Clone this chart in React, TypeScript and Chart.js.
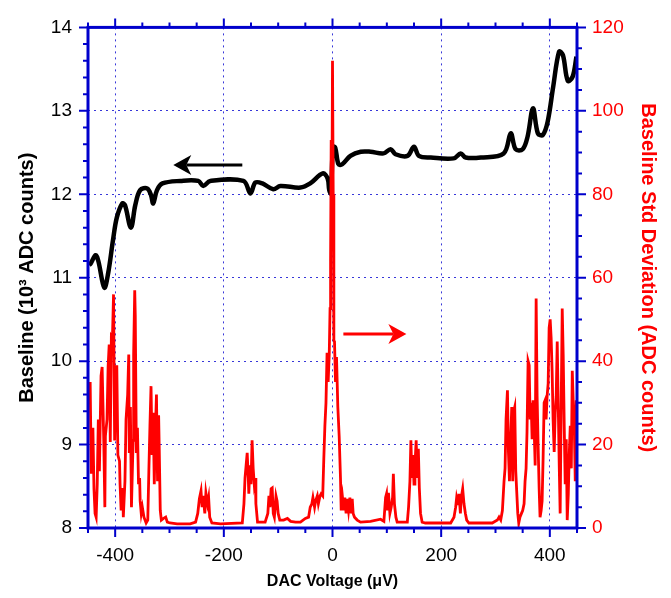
import React, { useEffect, useRef } from 'react';
import { Chart, registerables } from 'chart.js';

Chart.register(...registerables);

const FONT = "'Liberation Sans', Arial, sans-serif";
const BLUE = '#0000cc';
const RED = '#ff0000';

const xTickValues = [-400, -200, 0, 200, 400];
const xTitle = 'DAC Voltage (\u03bcV)';
const yTitle = 'Baseline (10\u00b3 ADC counts)';
const y2Title = 'Baseline Std Deviation (ADC counts)';

// Baseline (10^3 ADC counts), left axis
const baseVoltage = [-448, -445, -436, -431, -420, -413, -404, -397, -387, -382, -371, -363, -354, -341, -334, -330, -323, -313, -280, -247, -238, -225, -164, -151, -142, -129, -109, -96, -59, -41, -18, -9, -6, -3, 1, 5, 11, 18, 33, 52, 70, 94, 107, 116, 138, 150, 159, 181, 223, 236, 245, 273, 315, 328, 337, 350, 359, 369, 378, 387, 396, 406, 417, 424, 433, 442, 449];
const baseValue = [11.15, 11.17, 11.27, 11.2, 10.88, 11.05, 11.45, 11.72, 11.89, 11.87, 11.6, 11.87, 12.05, 12.07, 11.99, 11.89, 12.05, 12.13, 12.16, 12.16, 12.1, 12.16, 12.16, 12.01, 12.14, 12.13, 12.06, 12.1, 12.08, 12.13, 12.25, 12.19, 12.05, 12.01, 12.57, 12.56, 12.36, 12.36, 12.46, 12.51, 12.51, 12.49, 12.54, 12.48, 12.46, 12.57, 12.46, 12.44, 12.43, 12.49, 12.44, 12.44, 12.49, 12.73, 12.54, 12.54, 12.69, 13.03, 12.73, 12.71, 12.87, 13.28, 13.71, 13.67, 13.36, 13.41, 13.65];

// Baseline std deviation (ADC counts), right axis
const stdVoltage = [-446, -444, -441, -439, -437, -435, -433, -431, -429, -426, -424, -421, -419, -418, -415, -413, -411, -409, -407, -405, -403, -401, -399, -397, -395, -392, -391, -389, -386, -385, -382, -380, -377, -375, -374, -372, -370, -367, -366, -364, -363, -361, -359, -357, -355, -354, -352, -350, -347, -343, -340, -338, -336, -334, -332, -330, -328, -326, -324, -322, -320, -319, -317, -315, -311, -307, -304, -299, -286, -262, -252, -248, -245, -242, -240, -238, -235, -233, -230, -228, -226, -222, -206, -166, -163, -161, -159, -157, -155, -154, -152, -150, -148, -146, -144, -142, -141, -138, -130, -124, -119, -117, -115, -113, -111, -109, -107, -104, -102, -100, -97, -90, -83, -77, -68, -59, -50, -44, -41, -38, -36, -33, -31, -28, -26, -23, -21, -18, -16, -14, -12, -10, -8, -6, -4.5, -3.5, -2.4, -1.3, 0, 1.3, 2.5, 3.7, 5.5, 7.4, 9.8, 12.3, 14.7, 16, 18.4, 20.8, 22.7, 25, 27, 29.5, 32, 34.4, 36.3, 38, 40.5, 45.5, 51.6, 70, 88.5, 94.6, 97.7, 99.5, 101, 103, 105.6, 108, 110.6, 112, 114, 116.7, 119, 128.4, 137.7, 140, 142.5, 144.3, 146, 148, 150, 151.7, 154, 156, 158, 159.8, 162, 165, 171, 205, 217.5, 223.6, 226.7, 228.5, 231, 232.8, 235.4, 237, 239.6, 242, 244.6, 247, 251, 279, 294, 303.5, 306.5, 309.6, 312.7, 315.7, 317.6, 319.4, 322, 323.8, 325.7, 328, 329.9, 331.7, 333.6, 335.4, 337.3, 339, 341, 342.8, 345, 347.8, 350, 352.6, 354.4, 356.3, 358, 360, 362, 363.7, 365.6, 367.4, 369.2, 371, 373, 374.8, 376.6, 378.4, 380.3, 382, 384, 385.8, 387.6, 389.5, 391.3, 393.2, 395, 396.9, 398.7, 400.6, 402.4, 404.2, 406, 408, 409.9, 411.7, 413.6, 415.4, 417.3, 419, 421, 422.8, 424.6, 426.5, 428.3, 430.2, 432, 434, 435.7, 437.6, 439.5, 441.3, 443, 445, 446.8, 448.7];
const stdValue = [35, 13, 24, 9.4, 3.5, 2.6, 10.5, 26, 13.6, 36.5, 38.6, 21, 5, 22, 26, 38.6, 44, 20.6, 46, 45.6, 56, 21, 35, 39, 17.5, 16, 10.5, 4.2, 9.6, 2.6, 11.2, 26, 32, 41.6, 18, 29, 5, 21, 41.6, 57, 51, 18, 24, 10.5, 12, 6.5, 3.5, 5, 2.6, 1.2, 1.9, 13.6, 24.5, 34, 17.5, 27.6, 10.5, 23, 32, 11.2, 27, 20, 4.2, 1.9, 2.3, 2.6, 1.4, 1.2, 1, 1, 1.4, 3.5, 7, 8.9, 5, 7.7, 3.5, 8.4, 5.8, 7.3, 2.6, 1.2, 1, 1.2, 5.8, 12, 15, 18, 12, 8.2, 15, 10.5, 21, 14.3, 10.5, 12, 5.8, 1.4, 1.4, 1.4, 3.5, 7.7, 5, 9.4, 9.6, 3.5, 2.6, 7.7, 6.5, 3.5, 1.9, 1.9, 2.3, 1.6, 1.4, 1.4, 2.3, 2.6, 5, 5.8, 7.3, 5, 6.5, 7.7, 5.8, 7.7, 8.2, 7.7, 16.6, 24.5, 30, 42, 35, 41.6, 52.6, 64, 93, 70, 112, 80, 45, 44.7, 35, 41, 29, 22, 12, 4.2, 7.3, 4.2, 7.3, 3.5, 7, 4.2, 7.3, 3.5, 7, 3.5, 2.6, 1.9, 1.4, 1.6, 2.1, 1.6, 7.3, 8.2, 4.2, 8.4, 3.5, 5, 7.3, 13, 5.8, 2.6, 1.4, 1.4, 1.4, 5, 11.2, 21, 12, 17.5, 10.5, 15, 21, 12, 19, 9.6, 3.5, 1.4, 1.2, 1.2, 1.2, 2.6, 5, 7.3, 5.8, 8.2, 3.5, 7.3, 9.4, 5.8, 3.5, 1.9, 1.2, 1.2, 1.2, 1.9, 2.6, 1.9, 4.2, 11.2, 14.3, 26, 33, 18.2, 11.2, 21.3, 29, 11.2, 28, 29, 13.6, 8.9, 3.5, 1.2, 2.6, 3.5, 4.2, 5.8, 11.2, 14.3, 23, 40, 39, 26, 30, 21.3, 30.6, 24.5, 15, 55, 31.6, 20, 9.6, 2.6, 4.2, 6.5, 16.6, 30, 30.6, 26, 31.6, 34.6, 48, 50, 45.6, 37.7, 26, 18.2, 27.6, 31.6, 44.7, 30, 15, 3.5, 30.6, 52.6, 41.6, 24.5, 10.5, 21.3, 1.9, 8.2, 17.5, 24.5, 14.3, 37.7, 30.6, 24.5, 11.2, 30.6];

// Annotation arrows (data units)
const leftArrow = { tail: -166, tip: -293, value: 12.35 };
const rightArrow = { tail: 20, tip: 136, value: 46.5 };

function drawArrow(ctx: CanvasRenderingContext2D, x1: number, y: number, x2: number, color: string) {
  const dir = x2 > x1 ? 1 : -1;
  const headLen = 18;
  const half = 10;
  const notch = 5;
  ctx.save();
  ctx.strokeStyle = color;
  ctx.fillStyle = color;
  ctx.lineWidth = 3;
  ctx.beginPath();
  ctx.moveTo(x1, y);
  ctx.lineTo(x2 - dir * (headLen - notch), y);
  ctx.stroke();
  ctx.beginPath();
  ctx.moveTo(x2, y);
  ctx.lineTo(x2 - dir * headLen, y - half);
  ctx.lineTo(x2 - dir * (headLen - notch), y);
  ctx.lineTo(x2 - dir * headLen, y + half);
  ctx.closePath();
  ctx.fill();
  ctx.restore();
}

const framePlugin = {
  id: 'framePlugin',
  afterDraw(chart: any) {
    const { ctx, chartArea, scales } = chart;
    const { left, right, top, bottom } = chartArea;
    const xs = scales.x;
    const ys = scales.y;
    const y2s = scales.y2;
    ctx.save();
    ctx.strokeStyle = BLUE;
    ctx.lineWidth = 2;
    ctx.beginPath();
    for (let v = -450; v <= 450; v += 50) {
      const px = xs.getPixelForValue(v);
      const len = v % 200 === 0 ? 9 : 5;
      ctx.moveTo(px, bottom);
      ctx.lineTo(px, bottom + len);
      ctx.moveTo(px, top);
      ctx.lineTo(px, top - len);
    }
    for (let i = 0; i <= 30; i++) {
      const v = 8 + i * 0.2;
      const py = ys.getPixelForValue(v);
      const len = i % 5 === 0 ? 9 : 5;
      ctx.moveTo(left, py);
      ctx.lineTo(left - len, py);
    }
    for (let v = 0; v <= 120; v += 5) {
      const py = y2s.getPixelForValue(v);
      const len = v % 20 === 0 ? 9 : 5;
      ctx.moveTo(right, py);
      ctx.lineTo(right + len, py);
    }
    ctx.stroke();
    ctx.lineWidth = 3;
    ctx.strokeRect(left, top, right - left, bottom - top);
    ctx.restore();

    drawArrow(ctx, xs.getPixelForValue(leftArrow.tail), ys.getPixelForValue(leftArrow.value), xs.getPixelForValue(leftArrow.tip), '#000000');
    drawArrow(ctx, xs.getPixelForValue(rightArrow.tail), y2s.getPixelForValue(rightArrow.value), xs.getPixelForValue(rightArrow.tip), RED);
  },
};

export default function App() {
  const canvasRef = useRef<HTMLCanvasElement | null>(null);

  useEffect(() => {
    if (!canvasRef.current) return;
    const gridCommon = {
      color: 'rgba(20,20,210,0.85)',
      lineWidth: 1,
      drawTicks: false,
    };
    const chart = new Chart(canvasRef.current, {
      type: 'line',
      data: {
        datasets: [
          {
            label: 'Std Deviation',
            data: stdVoltage.map((x, i) => ({ x, y: stdValue[i] })),
            yAxisID: 'y2',
            borderColor: RED,
            borderWidth: 2.8,
            pointRadius: 0,
            tension: 0,
            fill: false,
          },
          {
            label: 'Baseline',
            data: baseVoltage.map((x, i) => ({ x, y: baseValue[i] })),
            yAxisID: 'y',
            borderColor: '#000000',
            borderWidth: 4.5,
            pointRadius: 0,
            tension: 0.35,
            fill: false,
          },
        ],
      },
      options: {
        animation: false,
        responsive: false,
        maintainAspectRatio: false,
        layout: { padding: { left: 0, right: 0, top: 15, bottom: 0 } },
        plugins: {
          legend: { display: false },
          tooltip: { enabled: false },
        },
        scales: {
          x: {
            type: 'linear',
            min: -450,
            max: 450,
            afterBuildTicks: (scale: any) => {
              scale.ticks = xTickValues.map((value) => ({ value }));
            },
            afterFit: (scale: any) => {
              scale.height = 70;
            },
            grid: gridCommon,
            border: { display: false, dash: [2, 4] },
            ticks: { color: '#000000', font: { family: FONT, size: 19 }, padding: 16, maxRotation: 0 },
            title: {
              display: true,
              text: xTitle,
              color: '#000000',
              font: { family: FONT, size: 16, weight: 'bold' },
              padding: { top: 0, bottom: 7 },
            },
          },
          y: {
            type: 'linear',
            position: 'left',
            min: 8,
            max: 14,
            ticks: { stepSize: 1, color: '#000000', font: { family: FONT, size: 19 }, padding: 16 },
            afterFit: (scale: any) => {
              scale.width = 88;
            },
            grid: gridCommon,
            border: { display: false, dash: [2, 4] },
            title: {
              display: true,
              text: yTitle,
              color: '#000000',
              font: { family: FONT, size: 20, weight: 'bold' },
              padding: { top: 15, bottom: 0 },
            },
          },
          y2: {
            type: 'linear',
            position: 'right',
            min: 0,
            max: 120,
            ticks: { stepSize: 20, color: RED, font: { family: FONT, size: 19 }, padding: 15 },
            afterFit: (scale: any) => {
              scale.width = 94;
            },
            grid: { drawOnChartArea: false, drawTicks: false },
            border: { display: false },
            title: {
              display: true,
              text: y2Title,
              color: RED,
              font: { family: FONT, size: 20, weight: 'bold' },
              padding: { top: 11, bottom: 0 },
            },
          },
        },
      },
      plugins: [framePlugin],
    } as any);
    return () => chart.destroy();
  }, []);

  return (
    <div style={{ position: 'absolute', left: 0, top: 0, width: 671, height: 598, background: '#ffffff' }}>
      <canvas ref={canvasRef} width={671} height={598} />
    </div>
  );
}
